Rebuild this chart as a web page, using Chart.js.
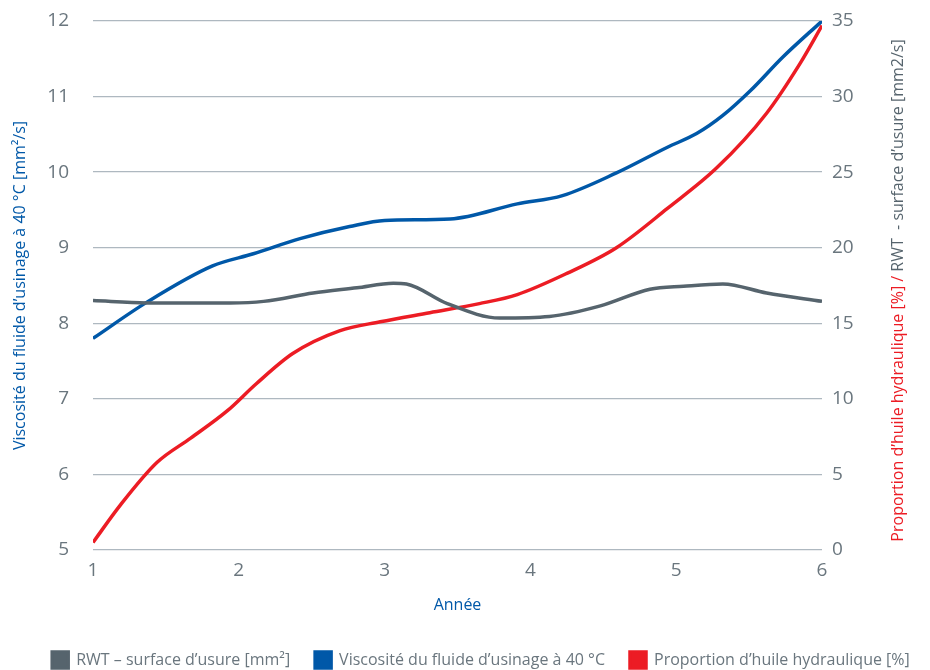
<!DOCTYPE html>
<html>
<head>
<meta charset="utf-8">
<script src="https://cdn.jsdelivr.net/npm/chart.js@4"></script>
<style>
  html, body { margin: 0; padding: 0; background: #fff; }
  #wrap { width: 930px; height: 670px; }
</style>
</head>
<body>
<div id="wrap"><canvas id="chart" width="930" height="670"></canvas></div>
<script>
// x positions (Année) and values
const rwtYears = [1, 1.37, 1.94, 2.17, 2.51, 2.81, 3.06, 3.15, 3.43, 3.79, 4.13, 4.48, 4.82, 5.05, 5.32, 5.62, 6];
const rwtValues = [16.5, 16.35, 16.35, 16.45, 17.0, 17.35, 17.65, 17.6, 16.3, 15.35, 15.45, 16.15, 17.25, 17.45, 17.6, 17.0, 16.45];

const viscYears = [1, 1.37, 1.82, 2.1, 2.42, 2.76, 3.0, 3.45, 3.91, 4.22, 4.59, 4.94, 5.14, 5.32, 5.51, 5.73, 6];
const viscValues = [7.80, 8.28, 8.76, 8.92, 9.12, 9.28, 9.36, 9.38, 9.58, 9.69, 9.99, 10.33, 10.51, 10.75, 11.08, 11.52, 12];

const oilYears = [1, 1.19, 1.44, 1.67, 1.92, 2.12, 2.37, 2.69, 2.97, 3.31, 3.65, 3.91, 4.25, 4.59, 4.94, 5.28, 5.62, 5.85, 6];
const oilValues = [0.5, 3.0, 5.8, 7.4, 9.2, 11.0, 13.0, 14.5, 15.1, 15.7, 16.3, 16.9, 18.3, 20.0, 22.6, 25.3, 28.9, 32.2, 34.7];

const xTicks = [1, 2, 3, 4, 5, 6];

const labelRwt = 'RWT – surface d’usure [mm²]';
const labelVisc = 'Viscosité du fluide d’usinage à 40 °C';
const labelOil = 'Proportion d’huile hydraulique [%]';

const leftTitle = 'Viscosité du fluide d’usinage à 40 °C [mm²/s]';
const rightTitleRed = 'Proportion d’huile hydraulique [%] / ';
const rightTitleGrey = 'RWT  - surface d’usure [mm2/s]';

const GREY = '#56646d';
const BLUE = '#0058a8';
const RED = '#ec1c24';
const TICK = '#6a767e';
const FONT = '"Open Sans", sans-serif';

function pts(xs, ys) {
  return xs.map((x, i) => ({ x: x, y: ys[i] }));
}

// two-colour title on the right axis
const rightTitlePlugin = {
  id: 'rightTitle',
  afterLayout(chart) {
    // legend sits a little right of centre in the original
    chart.legend.left += 16;
    chart.legend.right += 16;
  },
  afterDraw(chart) {
    const ctx = chart.ctx;
    const area = chart.chartArea;
    ctx.save();
    ctx.font = '16px ' + FONT;
    const w1 = ctx.measureText(rightTitleRed).width;
    const w2 = ctx.measureText(rightTitleGrey).width;
    const total = w1 + w2;
    ctx.translate(898, (area.top + area.bottom) / 2 + 5);
    ctx.rotate(-Math.PI / 2);
    ctx.textBaseline = 'middle';
    ctx.textAlign = 'left';
    ctx.fillStyle = RED;
    ctx.fillText(rightTitleRed, -total / 2, 0);
    ctx.fillStyle = GREY;
    ctx.fillText(rightTitleGrey, -total / 2 + w1, 0);
    ctx.restore();
  }
};

const common = {
  borderWidth: 3.5,
  pointRadius: 0,
  cubicInterpolationMode: 'monotone',
  fill: false
};

new Chart(document.getElementById('chart').getContext('2d'), {
  type: 'line',
  data: {
    datasets: [
      Object.assign({ label: labelRwt, data: pts(rwtYears, rwtValues), borderColor: GREY, backgroundColor: GREY, yAxisID: 'y1' }, common),
      Object.assign({ label: labelVisc, data: pts(viscYears, viscValues), borderColor: BLUE, backgroundColor: BLUE, yAxisID: 'y' }, common),
      Object.assign({ label: labelOil, data: pts(oilYears, oilValues), borderColor: RED, backgroundColor: RED, yAxisID: 'y1' }, common)
    ]
  },
  options: {
    responsive: false,
    animation: false,
    layout: { padding: { left: 0, right: 0, top: 21, bottom: -8 } },
    plugins: {
      tooltip: { enabled: false },
      legend: {
        position: 'bottom',
        labels: {
          color: TICK,
          font: { family: FONT, size: 16 },
          boxWidth: 16,
          boxHeight: 16,
          padding: 25
        }
      }
    },
    scales: {
      x: {
        type: 'linear',
        min: 1,
        max: 6,
        afterBuildTicks(axis) { axis.ticks = xTicks.map(v => ({ value: v })); },
        grid: { display: false },
        border: { display: false },
        ticks: { color: TICK, font: { family: FONT, size: 19 }, padding: 1 },
        title: { display: true, text: 'Année', color: BLUE, font: { family: FONT, size: 16 }, padding: { top: 13, bottom: 12 } }
      },
      y: {
        position: 'left',
        min: 5,
        max: 12,
        afterFit(axis) { axis.width = 93; axis.paddingTop = 12; axis.paddingBottom = 12; },
        ticks: { stepSize: 1, color: TICK, font: { family: FONT, size: 19 }, padding: 24 },
        grid: { color: '#aeb8c0', lineWidth: 1.3, drawTicks: false },
        border: { display: false },
        title: { display: true, text: leftTitle, color: BLUE, font: { family: FONT, size: 16 }, padding: { top: 11, bottom: 0 } }
      },
      y1: {
        position: 'right',
        min: 0,
        max: 35,
        afterFit(axis) { axis.width = 108; axis.paddingTop = 12; axis.paddingBottom = 12; },
        ticks: { stepSize: 5, color: TICK, font: { family: FONT, size: 19 }, padding: 10 },
        grid: { display: false, drawTicks: false },
        border: { display: false }
      }
    }
  },
  plugins: [rightTitlePlugin]
});
</script>
</body>
</html>
